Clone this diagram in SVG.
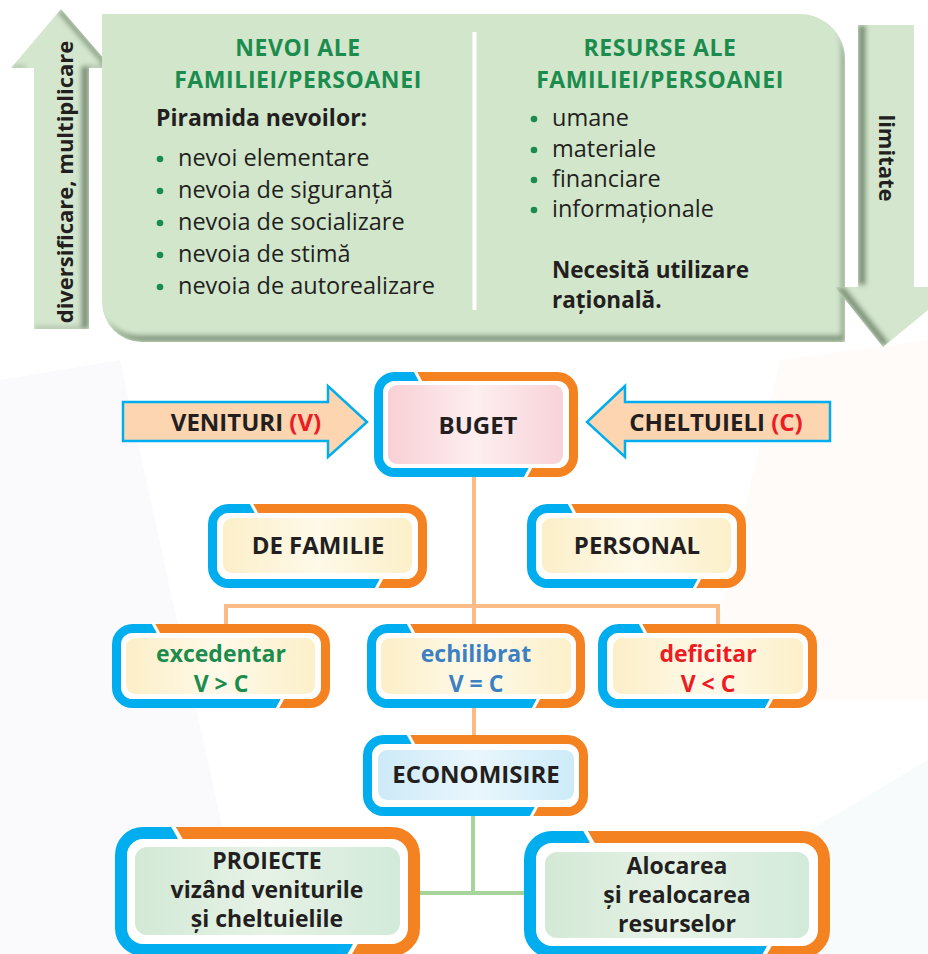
<svg xmlns="http://www.w3.org/2000/svg" width="928" height="954" viewBox="0 0 928 954">
<defs>
<style>
text{font-family:"Open Sans","Noto Sans","DejaVu Sans",sans-serif;fill:#231f20}
.b{font-weight:700}
.t{font-size:23px;font-weight:700;text-anchor:middle}
.big{font-size:24px}
.ttl{font-size:23px;font-weight:700;fill:#1b8c4e;text-anchor:middle;letter-spacing:0.6px}
.body{font-size:23.5px}
.dot{fill:#1b8c4e}
.blue{fill:none;stroke:#00aeef;stroke-width:9}
.org{fill:none;stroke:#f58220;stroke-width:9}
.blueL{fill:none;stroke:#00aeef;stroke-width:12}
.orgL{fill:none;stroke:#f58220;stroke-width:12}
.gap{stroke:#fff;stroke-width:3;fill:none}
.gapL{stroke:#fff;stroke-width:4;fill:none}
.bg{fill:#fff}
.side{fill:#fdd5b1;stroke:#00aeef;stroke-width:2.5}
.red{fill:#ed1c24}
.conO{fill:none;stroke:#fbbb87;stroke-width:4}
.conG{fill:none;stroke:#a6d49a;stroke-width:4}
</style>
<linearGradient id="gY" x1="0" y1="0" x2="1" y2="0"><stop offset="0" stop-color="#fcefc8"/><stop offset="0.5" stop-color="#fef9e9"/><stop offset="1" stop-color="#fcf0c9"/></linearGradient>
<linearGradient id="gP" x1="0" y1="0" x2="1" y2="0"><stop offset="0" stop-color="#f8d0d5"/><stop offset="0.5" stop-color="#fdeef0"/><stop offset="1" stop-color="#f8d3d8"/></linearGradient>
<linearGradient id="gB" x1="0" y1="0" x2="1" y2="0"><stop offset="0" stop-color="#cdeaf8"/><stop offset="0.5" stop-color="#e9f6fc"/><stop offset="1" stop-color="#cdebf8"/></linearGradient>
<linearGradient id="gG" x1="0" y1="0" x2="1" y2="0"><stop offset="0" stop-color="#d3e9d6"/><stop offset="0.5" stop-color="#e6f2e6"/><stop offset="1" stop-color="#d2eada"/></linearGradient>
<filter id="shBox" x="-5%" y="-5%" width="110%" height="110%">
<feOffset in="SourceAlpha" dx="-4" dy="-7" result="o"/>
<feComposite in="SourceAlpha" in2="o" operator="out" result="e"/>
<feGaussianBlur in="e" stdDeviation="2.5" result="bl"/>
<feFlood flood-color="#4f6b4c" flood-opacity="0.75"/>
<feComposite in2="bl" operator="in" result="s"/>
<feComposite in="s" in2="SourceAlpha" operator="in" result="s2"/>
<feMerge><feMergeNode in="SourceGraphic"/><feMergeNode in="s2"/></feMerge>
</filter>
<filter id="shUp" x="-20%" y="-10%" width="140%" height="120%">
<feOffset in="SourceAlpha" dx="-8" dy="-2" result="o"/>
<feComposite in="SourceAlpha" in2="o" operator="out" result="e"/>
<feGaussianBlur in="e" stdDeviation="2.5" result="bl"/>
<feFlood flood-color="#4f6b4c" flood-opacity="0.8"/>
<feComposite in2="bl" operator="in" result="s"/>
<feComposite in="s" in2="SourceAlpha" operator="in" result="s2"/>
<feMerge><feMergeNode in="SourceGraphic"/><feMergeNode in="s2"/></feMerge>
</filter>
<filter id="shDn" x="-20%" y="-10%" width="140%" height="120%">
<feOffset in="SourceAlpha" dx="8" dy="-2" result="o"/>
<feComposite in="SourceAlpha" in2="o" operator="out" result="e"/>
<feGaussianBlur in="e" stdDeviation="2.5" result="bl"/>
<feFlood flood-color="#4f6b4c" flood-opacity="0.8"/>
<feComposite in2="bl" operator="in" result="s"/>
<feComposite in="s" in2="SourceAlpha" operator="in" result="s2"/>
<feMerge><feMergeNode in="SourceGraphic"/><feMergeNode in="s2"/></feMerge>
</filter>
</defs>

<rect width="928" height="954" fill="#ffffff"/>
<polygon points="780,360 928,340 928,700 700,700" fill="#fffbf8"/>
<polygon points="0,380 120,360 250,954 0,954" fill="#fafafc"/>
<polygon points="600,954 928,760 928,954" fill="#f7fbfc"/>

<!-- top section -->
<g id="arrow-up">
<polygon points="61,9 112,68 89,68 89,329 34,329 34,68 11,68" fill="#d4e7ce" filter="url(#shUp)"/>
<text class="b" font-size="22" text-anchor="middle" transform="translate(73,182) rotate(-90)">diversificare, multiplicare</text>
</g>

<g id="needs-resources">
<path d="M102,14 H800 A45,45 0 0 1 845,59 V342 H142 A40,40 0 0 1 102,302 Z" fill="#d2e6cc" filter="url(#shBox)"/>
<line x1="474.5" y1="32" x2="474.5" y2="310" stroke="#ffffff" stroke-width="4"/>
<g id="needs">
<text class="ttl" x="298" y="56">NEVOI ALE</text>
<text class="ttl" x="298" y="87.5">FAMILIEI/PERSOANEI</text>
<text class="b" font-size="23" x="156" y="126">Piramida nevoilor:</text>
<circle class="dot" cx="160" cy="159" r="3.3"/>
<text class="body" x="178" y="166">nevoi elementare</text>
<circle class="dot" cx="160" cy="191" r="3.3"/>
<text class="body" x="178" y="198">nevoia de siguranță</text>
<circle class="dot" cx="160" cy="223" r="3.3"/>
<text class="body" x="178" y="230">nevoia de socializare</text>
<circle class="dot" cx="160" cy="255" r="3.3"/>
<text class="body" x="178" y="262">nevoia de stimă</text>
<circle class="dot" cx="160" cy="287" r="3.3"/>
<text class="body" x="178" y="294">nevoia de autorealizare</text>
</g>
<g id="resources">
<text class="ttl" x="660" y="56">RESURSE ALE</text>
<text class="ttl" x="660" y="87.5">FAMILIEI/PERSOANEI</text>
<circle class="dot" cx="534" cy="119" r="3.3"/>
<text class="body" x="552" y="126">umane</text>
<circle class="dot" cx="534" cy="150" r="3.3"/>
<text class="body" x="552" y="157">materiale</text>
<circle class="dot" cx="534" cy="180" r="3.3"/>
<text class="body" x="552" y="187">financiare</text>
<circle class="dot" cx="534" cy="210" r="3.3"/>
<text class="body" x="552" y="217">informaționale</text>
<text class="b" font-size="22.5" x="552" y="278">Necesită utilizare</text>
<text class="b" font-size="22.5" x="552" y="308">rațională.</text>
</g>
</g>

<g id="arrow-down">
<polygon points="858,25 914,25 914,287 928,287 928,310 883,347 835,287 858,287" fill="#d4e7ce" filter="url(#shDn)"/>
<text class="b" font-size="22" text-anchor="middle" transform="translate(879,158) rotate(90)">limitate</text>
</g>

<!-- connectors -->
<g id="connectors">
<path class="conO" d="M474,477 V624"/>
<path class="conO" d="M226,624 V606 H718 V624"/>
<path class="conO" d="M474,708 V735"/>
<path class="conG" d="M473,816 V893"/>
<path class="conG" d="M420,893 H524"/>
</g>

<g id="venituri">
<polygon class="side" points="123,402 328,402 328,386 367,422 328,457 328,441 123,441"/>
<text class="t big" x="246" y="431">VENITURI <tspan class="red">(V)</tspan></text>
</g>
<g id="cheltuieli">
<polygon class="side" points="830,402 625,402 625,386 587,422 625,457 625,441 830,441"/>
<text class="t big" x="716" y="431">CHELTUIELI <tspan class="red">(C)</tspan></text>
</g>

<g id="buget">
<rect class="bg" x="378.5" y="376.5" width="195" height="96" rx="16"/>
<path class="blue" d="M418,376.5 H394.5 A16,16 0 0 0 378.5,392.5 V456.5 A16,16 0 0 0 394.5,472.5 H528"/>
<path class="org" d="M418,376.5 H557.5 A16,16 0 0 1 573.5,392.5 V456.5 A16,16 0 0 1 557.5,472.5 H528"/>
<path class="gap" d="M415,371 L421,382 M531,467 L525,478"/>
<rect x="388" y="385" width="175" height="79" rx="9" fill="url(#gP)"/>
<text class="t big" x="478" y="434">BUGET</text>
</g>

<g id="de-familie">
<rect class="bg" x="212.5" y="508.5" width="210" height="75" rx="16"/>
<path class="blue" d="M254,508.5 H228.5 A16,16 0 0 0 212.5,524.5 V567.5 A16,16 0 0 0 228.5,583.5 H379"/>
<path class="org" d="M254,508.5 H406.5 A16,16 0 0 1 422.5,524.5 V567.5 A16,16 0 0 1 406.5,583.5 H379"/>
<path class="gap" d="M251,503 L257,514 M382,578 L376,589"/>
<rect x="223" y="518" width="189" height="55" rx="9" fill="url(#gY)"/>
<text class="t big" x="318" y="554">DE FAMILIE</text>
</g>

<g id="personal">
<rect class="bg" x="531.5" y="508.5" width="210" height="75" rx="16"/>
<path class="blue" d="M572,508.5 H547.5 A16,16 0 0 0 531.5,524.5 V567.5 A16,16 0 0 0 547.5,583.5 H697"/>
<path class="org" d="M572,508.5 H725.5 A16,16 0 0 1 741.5,524.5 V567.5 A16,16 0 0 1 725.5,583.5 H697"/>
<path class="gap" d="M569,503 L575,514 M700,578 L694,589"/>
<rect x="542" y="518" width="189" height="55" rx="9" fill="url(#gY)"/>
<text class="t big" x="637" y="554">PERSONAL</text>
</g>

<g id="excedentar">
<rect class="bg" x="116.5" y="628.5" width="209" height="75" rx="16"/>
<path class="blue" d="M156,628.5 H132.5 A16,16 0 0 0 116.5,644.5 V687.5 A16,16 0 0 0 132.5,703.5 H280"/>
<path class="org" d="M156,628.5 H309.5 A16,16 0 0 1 325.5,644.5 V687.5 A16,16 0 0 1 309.5,703.5 H280"/>
<path class="gap" d="M153,623 L159,634 M283,698 L277,709"/>
<rect x="126" y="638" width="189" height="56" rx="9" fill="url(#gY)"/>
<text class="t" x="221" y="662" style="fill:#1b8c4e">excedentar</text>
<text class="t" x="221" y="692" style="fill:#1b8c4e">V &gt; C</text>
</g>

<g id="echilibrat">
<rect class="bg" x="371.5" y="628.5" width="209" height="75" rx="16"/>
<path class="blue" d="M411,628.5 H387.5 A16,16 0 0 0 371.5,644.5 V687.5 A16,16 0 0 0 387.5,703.5 H536"/>
<path class="org" d="M411,628.5 H564.5 A16,16 0 0 1 580.5,644.5 V687.5 A16,16 0 0 1 564.5,703.5 H536"/>
<path class="gap" d="M408,623 L414,634 M539,698 L533,709"/>
<rect x="381" y="638" width="190" height="56" rx="9" fill="url(#gY)"/>
<text class="t" x="476" y="662" style="fill:#3a80c3">echilibrat</text>
<text class="t" x="476" y="692" style="fill:#3a80c3">V = C</text>
</g>

<g id="deficitar">
<rect class="bg" x="602.5" y="628.5" width="210" height="75" rx="16"/>
<path class="blue" d="M643,628.5 H618.5 A16,16 0 0 0 602.5,644.5 V687.5 A16,16 0 0 0 618.5,703.5 H769"/>
<path class="org" d="M643,628.5 H796.5 A16,16 0 0 1 812.5,644.5 V687.5 A16,16 0 0 1 796.5,703.5 H769"/>
<path class="gap" d="M640,623 L646,634 M772,698 L766,709"/>
<rect x="613" y="638" width="190" height="56" rx="9" fill="url(#gY)"/>
<text class="t" x="708" y="662" style="fill:#ed1c24">deficitar</text>
<text class="t" x="708" y="692" style="fill:#ed1c24">V &lt; C</text>
</g>

<g id="economisire">
<rect class="bg" x="367.5" y="739.5" width="216" height="72" rx="16"/>
<path class="blue" d="M411,739.5 H383.5 A16,16 0 0 0 367.5,755.5 V795.5 A16,16 0 0 0 383.5,811.5 H534"/>
<path class="org" d="M411,739.5 H567.5 A16,16 0 0 1 583.5,755.5 V795.5 A16,16 0 0 1 567.5,811.5 H534"/>
<path class="gap" d="M408,734 L414,745 M537,806 L531,817"/>
<rect x="378" y="750" width="196" height="50" rx="9" fill="url(#gB)"/>
<text class="t big" x="476" y="783">ECONOMISIRE</text>
</g>

<g id="proiecte">
<rect class="bg" x="121" y="833" width="293" height="117" rx="22"/>
<path class="blueL" d="M177,833 H143 A22,22 0 0 0 121,855 V928 A22,22 0 0 0 143,950 H352"/>
<path class="orgL" d="M177,833 H392 A22,22 0 0 1 414,855 V928 A22,22 0 0 1 392,950 H352"/>
<path class="gapL" d="M173,826 L181,840 M356,943 L348,957"/>
<rect x="135" y="847" width="265" height="88" rx="12" fill="url(#gG)"/>
<text class="t" x="267" y="869">PROIECTE</text>
<text class="t" x="267" y="898">vizând veniturile</text>
<text class="t" x="267" y="927">și cheltuielile</text>
</g>

<g id="alocarea">
<rect class="bg" x="530" y="837" width="294" height="115" rx="22"/>
<path class="blueL" d="M589,837 H552 A22,22 0 0 0 530,859 V930 A22,22 0 0 0 552,952 H766"/>
<path class="orgL" d="M589,837 H802 A22,22 0 0 1 824,859 V930 A22,22 0 0 1 802,952 H766"/>
<path class="gapL" d="M585,830 L593,844 M770,945 L762,959"/>
<rect x="545" y="852" width="264" height="86" rx="12" fill="url(#gG)"/>
<text class="t" x="677" y="874">Alocarea</text>
<text class="t" x="677" y="903">și realocarea</text>
<text class="t" x="677" y="932">resurselor</text>
</g>
</svg>
